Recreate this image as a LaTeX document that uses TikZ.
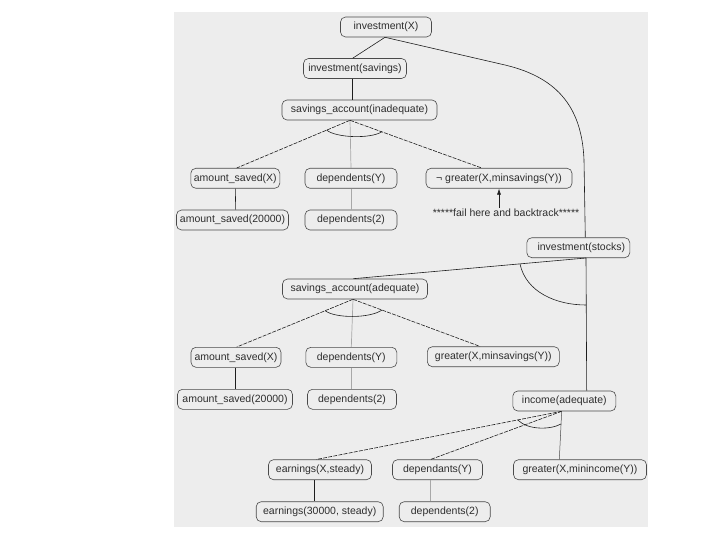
\documentclass[tikz,border=0pt]{standalone}
\usepackage{fontspec}
\setmainfont{Liberation Sans}
\usetikzlibrary{calc,arrows.meta}
\definecolor{bgc}{HTML}{EDEDED}
\definecolor{boxc}{HTML}{4A4A4A}
\definecolor{txtc}{HTML}{2E2E2E}
\definecolor{linec}{HTML}{1E1E1E}
\definecolor{greyl}{HTML}{A8A8A8}
\tikzset{
  nd/.style={draw=boxc, line width=0.6pt, rounded corners=5pt, fill=bgc,
    minimum width=#1, minimum height=20pt, inner sep=1pt, text=txtc,
    font=\fontsize{10.5}{12}\selectfont},
  blk/.style={draw=linec, line width=0.6pt},
  dsh/.style={draw=linec, line width=0.6pt, dash pattern=on 4pt off 1.2pt},
  gry/.style={draw=greyl, line width=0.7pt},
  arcl/.style={draw=linec, line width=0.6pt},
}
\begin{document}
\begin{tikzpicture}[x=1pt,y=-1pt]
\useasboundingbox (0,0) rectangle (720,540);
\fill[bgc] (174,12) rectangle (648,527);

% nodes
\node[nd=91pt]  (invX)   at (386,27)    {investment(X)};
\node[nd=103pt] (invSav) at (355,68.5)  {investment(savings)};
\node[nd=155pt] (saInad) at (359.5,110) {savings\_account(inadequate)};
\node[nd=89pt]  (amtXa)  at (235.3,178.3) {amount\_saved(X)};
\node[nd=92pt]  (depYa)  at (351,178.3) {dependents(Y)};
\node[nd=146pt] (neg)    at (499,178.3) {¬ greater(X,minsavings(Y))};
\node[nd=112pt] (amtVa)  at (232.5,220) {amount\_saved(20000)};
\node[nd=92pt]  (depVa)  at (351,220)   {dependents(2)};
\node[text=txtc, inner sep=1pt, font=\fontsize{10.5}{12}\selectfont] (fail) at (506,213) {*****fail here and backtrack*****};
\node[nd=103pt] (invSt)  at (578.3,247.7) {\hspace*{6pt}investment(stocks)};
\node[nd=145pt] (saAd)   at (355,289)   {savings\_account(adequate)};
\node[nd=90pt]  (amtXb)  at (236,357.3) {amount\_saved(X)};
\node[nd=91pt]  (depYb)  at (351.3,357.3) {dependents(Y)};
\node[nd=132pt] (grb)    at (493.3,356.7) {greater(X,minsavings(Y))};
\node[nd=115pt] (amtVb)  at (235,399.3) {amount\_saved(20000)};
\node[nd=89pt]  (depVb)  at (352,399.3) {dependents(2)};
\node[nd=103pt] (inc)    at (564.3,401) {income(adequate)};
\node[nd=103pt] (earnX)  at (320,469.7) {earnings(X,steady)};
\node[nd=90pt]  (depsY)  at (437.5,469.7) {dependants(Y)};
\node[nd=133pt] (grc)    at (580,469.7) {greater(X,minincome(Y))};
\node[nd=127pt] (earnV)  at (319.7,511.7) {earnings(30000, steady)};
\node[nd=91pt]  (depVc)  at (444.7,511.7) {dependents(2)};

% top
\draw[blk] ([xshift=-1pt]invX.south) -- ([xshift=-2.3pt]invSav.north);
\draw[blk] ([xshift=-1pt]invX.south) -- (505,65) .. controls (560,78) and (582,110) .. (584,160) -- ([xshift=7pt]invSt.north);
\draw[blk] ([xshift=-2.3pt]invSav.south) -- ([xshift=-6.8pt]saInad.north);

% group 1
\draw[dsh] ([xshift=-9.5pt]saInad.south) -- ([xshift=1.4pt]amtXa.north);
\draw[gry] ([xshift=-9.5pt]saInad.south) -- (depYa.north);
\draw[dsh] ([xshift=-9.5pt]saInad.south) -- ([xshift=-17.3pt]neg.north);
\draw[arcl] (326.5,130) .. controls (336,138) and (371,139) .. (381.9,131.7);
\draw[blk] (amtXa.south) -- ([xshift=3.2pt]amtVa.north);
\draw[gry] ([xshift=0.7pt]depYa.south) -- ([xshift=0.7pt]depVa.north);
\draw[linec, line width=0.6pt, -{Latex[length=6pt,width=4pt]}] ([xshift=-7pt]fail.north) -- (neg.south);

% investment(stocks)
\draw[blk] ([xshift=7.7pt]invSt.south) -- ([xshift=-1.7pt]saAd.north);
\draw[blk] ([xshift=7.7pt]invSt.south) -- ([xshift=22.4pt]inc.north);
\draw[arcl] (520,264) .. controls (526,292) and (556,305) .. (586,305);

% group 2
\draw[dsh] ([xshift=-2pt]saAd.south) -- ([xshift=0.7pt]amtXb.north);
\draw[gry] ([xshift=-2pt]saAd.south) -- (depYb.north);
\draw[dsh] ([xshift=-2pt]saAd.south) -- ([xshift=-13.3pt]grb.north);
\draw[arcl] (325,310.6) .. controls (335,318.5) and (370,318.5) .. (382,310);
\draw[blk] ([xshift=-0.3pt]amtXb.south) -- ([xshift=0.7pt]amtVb.north);
\draw[gry] ([xshift=0.4pt]depYb.south) -- ([xshift=-0.3pt]depVb.north);

% group 3
\draw[dsh] ([xshift=-2.6pt]inc.south) -- ([xshift=-3.3pt]earnX.north);
\draw[dsh] ([xshift=-2.6pt]inc.south) -- ([xshift=-6.8pt]depsY.north);
\draw[draw=linec!80, line width=0.5pt] ([xshift=-2.6pt]inc.south) -- ([xshift=-20.7pt]grc.north);
\draw[arcl] (518,420.2) .. controls (528,430) and (550,430) .. (561,424);
\draw[blk] ([xshift=-5.7pt]earnX.south) -- ([xshift=-5.4pt]earnV.north);
\draw[gry] ([xshift=-6.8pt]depsY.south) -- ([xshift=-14pt]depVc.north);
\end{tikzpicture}
\end{document}
